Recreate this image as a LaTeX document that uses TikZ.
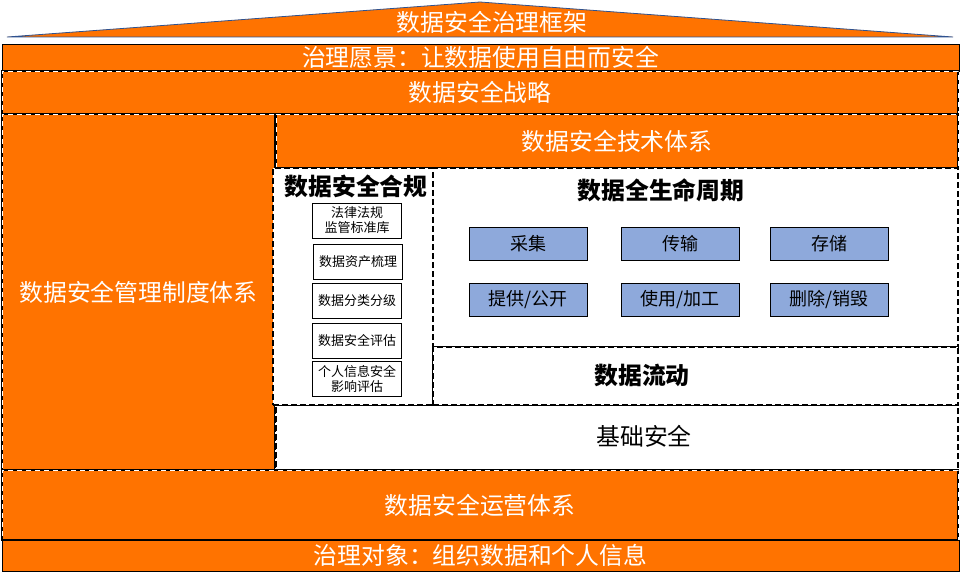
\documentclass[tikz,border=0pt]{standalone}
\usepackage{fontspec}
\usepackage{tikz}
\newfontfamily\cjk{Noto Sans CJK SC}
\definecolor{govorange}{RGB}{255,115,0}
\definecolor{stageblue}{RGB}{142,169,219}
\definecolor{roofblue}{RGB}{47,82,143}
\tikzset{
    bar/.style={fill=govorange, draw=black, line width=0.8pt, text=white, inner sep=0pt, outer sep=0pt,
        font=\cjk\fontsize{23.8}{27}\selectfont},
    dashbar/.style={bar, line width=2pt, postaction={draw=white, dashed, line width=0.7pt, dash pattern=on 5pt off 4pt}},
    whitebox/.style={fill=white, draw=black, line width=1.3pt, dash pattern=on 6pt off 3pt, inner sep=0pt, outer sep=0pt},
    title/.style={font=\cjk\bfseries\fontsize{23.8}{27}\selectfont, inner sep=0pt},
    lawbox/.style={draw=black, fill=white, line width=0.8pt, minimum width=89pt, minimum height=35pt, inner sep=0pt,
        align=center, font=\cjk\fontsize{13}{15}\selectfont},
    stage/.style={draw=black, fill=stageblue, line width=0.8pt, minimum width=118pt, minimum height=33pt, inner sep=0pt,
        font=\cjk\fontsize{18}{21}\selectfont}
}
\begin{document}
\begin{tikzpicture}[x=1pt,y=-1pt]
        \useasboundingbox (0,0) rectangle (965,585);

        %roof
        \filldraw [fill=govorange, draw=roofblue, line width=0.8pt] (7,37) -- (480,2) -- (953,37) -- cycle;
        \node [text=white, font=\cjk\fontsize{23.8}{27}\selectfont, inner sep=0pt] (frame) at (492,22) {数据安全治理框架};

        %top bars
        \node [bar, minimum width=957pt, minimum height=27pt] (vision) at (480.5,57.5) {治理愿景：让数据使用自由而安全};
        \node [dashbar, minimum width=956pt, minimum height=43pt] (strategy) at (480,92.5) {数据安全战略};

        %management column and technology bar
        \node [dashbar, minimum width=273pt, minimum height=356pt] (mgmt) at (138.5,292) {数据安全管理制度体系};
        \node [dashbar, minimum width=682pt, minimum height=54pt] (tech) at (617,141) {数据安全技术体系};

        %basic security
        \node [whitebox, minimum width=682pt, minimum height=65pt] (basic) at (617,437.5) {};
        \node [font=\cjk\fontsize{23.8}{27}\selectfont, inner sep=0pt] (basictext) at (644,436) {基础安全};

        %compliance
        \node [whitebox, minimum width=160pt, minimum height=237pt] (comply) at (353,286.5) {};
        \node [title] (complytitle) at (356,186) {数据安全合规};
        \node [lawbox] (law) at (357,220.5) {法律法规\\监管标准库};
        \node [lawbox] (asset) at (358,261.5) {数据资产梳理};
        \node [lawbox] (grade) at (357,300.5) {数据分类分级};
        \node [lawbox] (assess) at (357,340.5) {数据安全评估};
        \node [lawbox] (pia) at (357,379) {个人信息安全\\影响评估};

        %lifecycle
        \node [whitebox, minimum width=525pt, minimum height=179pt] (life) at (695.5,257.5) {};
        \node [title] (lifetitle) at (661,190) {数据全生命周期};
        \node [stage] (collect) at (528,243.5) {采集};
        \node [stage] (transfer) at (680,244) {传输};
        \node [stage] (store) at (829,243.5) {存储};
        \node [stage] (provide) at (528,299.5) {提供/公开};
        \node [stage] (use) at (680,299.5) {使用/加工};
        \node [stage] (delete) at (829,299.5) {删除/销毁};

        %data flow
        \node [whitebox, minimum width=525pt, minimum height=58pt] (flow) at (695.5,376) {};
        \node [title] (flowtext) at (642,375) {数据流动};

        %bottom bars
        \node [dashbar, minimum width=956pt, minimum height=70pt] (ops) at (480,505) {数据安全运营体系};
        \node [bar, minimum width=957pt, minimum height=31pt] (object) at (480.5,555.5) {治理对象：组织数据和个人信息};

\end{tikzpicture}
\end{document}
